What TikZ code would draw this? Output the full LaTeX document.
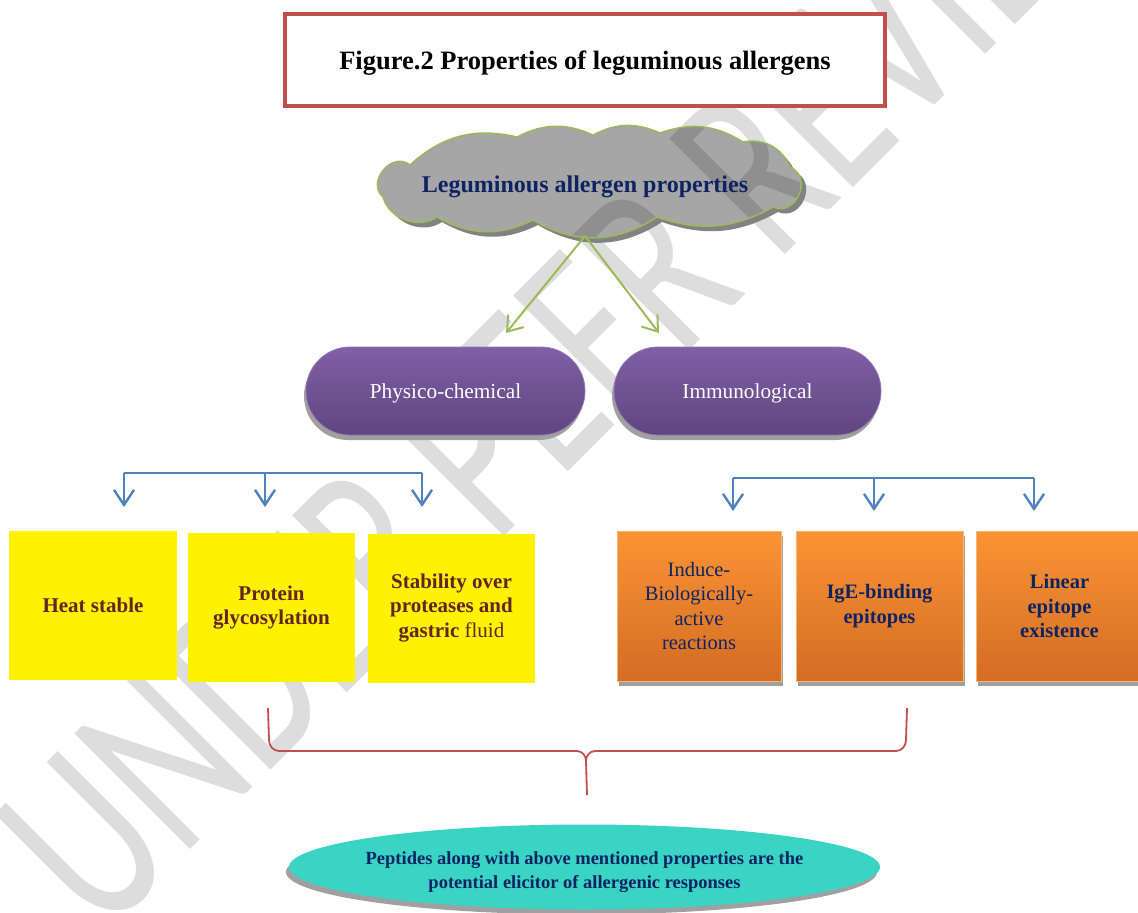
\documentclass[tikz,border=0pt]{standalone}
\usepackage{fontspec}
\setmainfont{Liberation Serif}
\newfontfamily\wmfont{Carlito}
\usetikzlibrary{shapes.misc,shapes.geometric,arrows.meta,shadows}

\definecolor{titlered}{RGB}{192,80,77}
\definecolor{cloudgray}{RGB}{166,166,166}
\definecolor{cloudshade}{RGB}{130,130,130}
\definecolor{leafgreen}{RGB}{155,187,89}
\definecolor{navytext}{RGB}{14,36,98}
\definecolor{purpletop}{RGB}{128,95,166}
\definecolor{purplebot}{RGB}{94,70,128}
\definecolor{arrowblue}{RGB}{79,129,189}
\definecolor{maroontext}{RGB}{99,37,35}
\definecolor{orangetop}{RGB}{250,148,52}
\definecolor{orangebot}{RGB}{212,108,36}
\definecolor{shadowgray}{RGB}{160,160,160}
\definecolor{tealfill}{RGB}{58,212,196}
\definecolor{wmgray}{RGB}{221,221,221}
\definecolor{wmdark}{RGB}{143,143,143}

\newcommand{\wmtext}{UNDER PEER REVIEW}
\newcommand{\cloudpath}{(410,165) to[bend left=28] (517,137) to[bend left=26] (593,135)
  to[bend left=26] (660,133) to[bend left=26] (743,142) to[bend left=40] (790,167)
  to[bend left=90, looseness=1.5] (773,207) to[bend left=24] (657,217)
  to[bend left=32] (533,220) to[bend left=28] (437,217) to[bend left=55] (383,197)
  to[bend left=90, looseness=1.4] (410,165) -- cycle}

\begin{document}
\begin{tikzpicture}[x=1pt,y=-1pt,
  wm/.style={rotate=45, xscale=0.69, inner sep=0pt, text=wmgray,
    font=\wmfont\fontsize{255}{255}\selectfont},
  titlebox/.style={draw=titlered, line width=4pt, fill=white,
    minimum width=600pt, minimum height=92pt, text depth=0pt,
    font=\bfseries\fontsize{26.5}{30}\selectfont},
  pill/.style={rounded rectangle, minimum height=88pt, inner sep=0pt, text depth=0pt,
    top color=purpletop, bottom color=purplebot, draw=purpletop!85!white, line width=0.8pt,
    text=white, font=\fontsize{21.3}{24}\selectfont,
    drop shadow={shadow xshift=-2pt, shadow yshift=-5pt, fill=shadowgray, opacity=1}},
  ybox/.style={rectangle, fill=yellow, minimum height=149pt, inner sep=0pt,
    text=maroontext, align=center, font=\bfseries\fontsize{21}{24.5}\selectfont},
  obox/.style={rectangle, minimum height=150pt, inner sep=0pt,
    top color=orangetop, bottom color=orangebot, draw=orangetop!70!white, line width=0.8pt,
    text=navytext, align=center, font=\fontsize{20.5}{24.5}\selectfont,
    drop shadow={shadow xshift=1.5pt, shadow yshift=-5pt, fill=shadowgray, opacity=1}},
  barrow/.style={draw=arrowblue, line width=2.4pt},
  btip/.style={-{Straight Barb[length=15pt,width=20pt]}},
  garrow/.style={draw=leafgreen, line width=2pt, -{Straight Barb[length=14pt,width=20pt]}},
  bracepath/.style={draw=titlered, line width=1.8pt},
  pepnode/.style={ellipse, fill=tealfill, minimum width=591pt, minimum height=85pt,
    inner sep=0pt,
    drop shadow={shadow xshift=-3pt, shadow yshift=-5pt, fill=shadowgray, opacity=1}}
]
\useasboundingbox (0,0) rectangle (1138,913);
\fill[white] (0,0) rectangle (1138,913);

% watermark
\node[wm] (wmark) at (583,343) {\wmtext};

% title
\node[titlebox] (title) at (585,60) {Figure.2 Properties of leguminous allergens};

% cloud
\fill[cloudshade, shift={(5,5)}] \cloudpath;
\fill[cloudgray] \cloudpath;
\begin{scope}
  \clip \cloudpath;
  \node[wm, text=wmdark] (wmin) at (583,343) {\wmtext};
\end{scope}
\draw[leafgreen, line width=1.4pt] \cloudpath;
\node[text=navytext, font=\bfseries\fontsize{24}{28}\selectfont, inner sep=0pt, text depth=0pt]
  (cloudtxt) at (585,184) {Leguminous allergen properties};

% green arrows
\coordinate (cb) at (585,236);
\coordinate (gl) at (506,333);
\coordinate (gr) at (659,333);
\draw[garrow] (cb) -- (gl);
\draw[garrow] (cb) -- (gr);

% purple pills
\node[pill, minimum width=279pt] (phys) at (445.5,391) {Physico-chemical};
\node[pill, minimum width=267pt] (immu) at (747.5,391) {Immunological};

% blue connectors left
\coordinate (j1) at (124,473);
\coordinate (j2) at (265,473);
\coordinate (j3) at (422,473);
\coordinate (a1) at (124,507);
\coordinate (a2) at (265,507);
\coordinate (a3) at (422,507);
\draw[barrow] (j1) -- (j3);
\draw[barrow, btip] (j1) -- (a1);
\draw[barrow, btip] (j2) -- (a2);
\draw[barrow, btip] (j3) -- (a3);

% blue connectors right
\coordinate (k1) at (733,478);
\coordinate (k2) at (874,478);
\coordinate (k3) at (1034,478);
\coordinate (b1) at (733,511);
\coordinate (b2) at (874,511);
\coordinate (b3) at (1034,511);
\draw[barrow] (k1) -- (k3);
\draw[barrow, btip] (k1) -- (b1);
\draw[barrow, btip] (k2) -- (b2);
\draw[barrow, btip] (k3) -- (b3);

% yellow boxes
\node[ybox, minimum width=168pt] (y1) at (93,605.5) {Heat stable};
\node[ybox, minimum width=167pt] (y2) at (271.5,607.5) {Protein\\glycosylation};
\node[ybox, minimum width=167pt] (y3) at (451.5,608) {Stability over\\proteases and\\gastric {\mdseries fluid}};

% orange boxes
\node[obox, minimum width=164pt] (o1) at (699,606) {Induce-\\Biologically-\\active\\reactions};
\node[obox, minimum width=167pt, font=\bfseries\fontsize{20.5}{24.5}\selectfont] (o2) at (879.5,606) {IgE-binding\\epitopes};
\node[obox, minimum width=167pt, font=\bfseries\fontsize{20.5}{24.5}\selectfont] (o3) at (1059.5,606) {Linear\\epitope\\existence};

% red brace
\coordinate (bl) at (268,708);
\coordinate (br) at (907,708);
\coordinate (bm) at (586,761);
\coordinate (bt) at (587,795);
\draw[bracepath] (bl) -- (269,740) to[out=-90,in=180] (279,751) -- (577,751) to[out=0,in=90] (bm) -- (bt);
\draw[bracepath] (bm) to[out=90,in=180] (595,751) -- (896,751) to[out=0,in=-90] (906,740) -- (br);

% bottom ellipse
\node[pepnode] (pep) at (584.5,867) {};
\node[text=navytext, align=center, font=\bfseries\fontsize{18.5}{24}\selectfont, inner sep=0pt]
  (peptxt) at (584.5,872) {Peptides along with above mentioned properties are the\\potential elicitor of allergenic responses};
\end{tikzpicture}
\end{document}
